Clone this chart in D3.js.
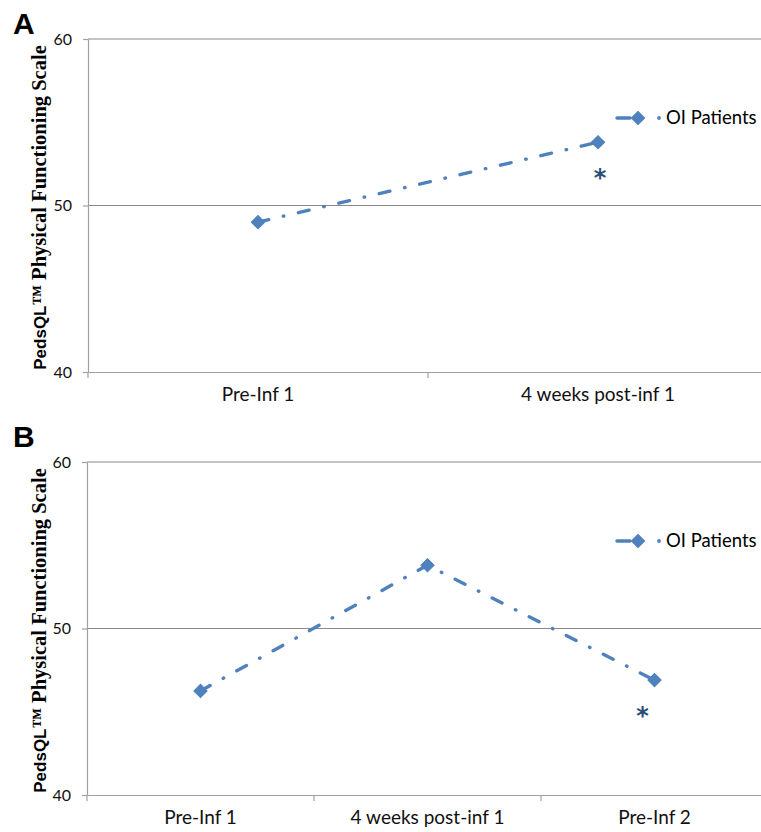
<!DOCTYPE html>
<html>
<head>
<meta charset="utf-8">
<script src="https://cdn.jsdelivr.net/npm/d3@7"></script>
<style>
  html, body { margin: 0; padding: 0; background: #fff; }
  svg { display: block; }
</style>
</head>
<body>
<svg id="chart" width="761" height="832"></svg>
<script>
// data
const categoriesA = ["Pre-Inf 1", "4 weeks post-inf 1"];
const valuesA = [49.0, 53.8];
const starA = [false, true];

const categoriesB = ["Pre-Inf 1", "4 weeks post-inf 1", "Pre-Inf 2"];
const valuesB = [46.25, 53.8, 46.9];
const starB = [false, false, true];

const yTicks = [40, 50, 60];
const gridTicks = [50, 60];
const seriesName = "OI Patients";
const titleSans = "PedsQL";
const titleSerif = "™ Physical Functioning Scale";

const blue = "#4f81bd";
const svg = d3.select("#chart");

function drawPanel(opt) {
  const g = svg.append("g");
  const x = d3.scaleBand().domain(opt.cats).range([opt.left, 768]);
  const y = d3.scaleLinear().domain([40, 60]).range([opt.bottom, opt.top]);
  const cx = c => x(c) + x.bandwidth() / 2;

  // panel letter
  g.append("text")
    .attr("x", 13).attr("y", opt.letterY)
    .attr("font-family", "'Liberation Sans', Arial, sans-serif")
    .attr("font-weight", "bold").attr("font-size", 30)
    .text(opt.letter);

  // gridlines
  g.selectAll("line.grid").data(gridTicks).join("line")
    .attr("x1", opt.left).attr("x2", 768)
    .attr("y1", d => y(d)).attr("y2", d => y(d))
    .attr("stroke", "#8a8a8a").attr("stroke-width", 1.2);

  // y axis
  const ya = g.append("g").attr("transform", `translate(${opt.left},0)`)
    .call(d3.axisLeft(y).tickValues(yTicks).tickSize(5).tickSizeOuter(0).tickPadding(11));
  ya.select(".domain").attr("stroke", "#a0a0a0").attr("stroke-width", 1.2);
  ya.selectAll(".tick line").attr("stroke", "#a0a0a0").attr("stroke-width", 1.2);
  ya.selectAll(".tick text")
    .attr("font-family", "Lato, 'Open Sans', sans-serif")
    .attr("font-size", 16).attr("fill", "#111");

  // x axis
  const xa = g.append("g").attr("transform", `translate(0,${opt.bottom})`)
    .call(d3.axisBottom(x).tickSize(0).tickSizeOuter(0).tickPadding(opt.labelPad));
  xa.select(".domain").attr("stroke", "#a0a0a0").attr("stroke-width", 1.2);
  xa.selectAll(".tick text")
    .attr("font-family", "Lato, 'Open Sans', sans-serif")
    .attr("font-size", 19).attr("fill", "#111");
  // category boundary ticks
  g.selectAll("line.bt").data(opt.cats).join("line")
    .attr("x1", d => x(d)).attr("x2", d => x(d))
    .attr("y1", opt.bottom).attr("y2", opt.bottom + 6)
    .attr("stroke", "#a0a0a0").attr("stroke-width", 1.2);

  // y title
  const t = g.append("text")
    .attr("transform", `translate(40,${(opt.top + opt.bottom) / 2 + 2}) rotate(-90)`)
    .attr("text-anchor", "middle").attr("dy", "0.35em")
    .attr("font-weight", "bold").attr("fill", "#000");
  t.append("tspan")
    .attr("font-family", "'Liberation Sans Narrow', 'Liberation Sans', Arial, sans-serif")
    .attr("font-size", 17).text(titleSans);
  t.append("tspan")
    .attr("font-family", "'Liberation Serif', 'Times New Roman', serif")
    .attr("font-size", 20.5).text(titleSerif);

  // series line
  const pts = opt.cats.map((c, i) => ({ c, v: opt.vals[i], star: opt.stars[i] }));
  const line = d3.line().x(d => cx(d.c)).y(d => y(d.v));
  g.append("path").datum(pts)
    .attr("d", line).attr("fill", "none")
    .attr("stroke", blue).attr("stroke-width", 3.4)
    .attr("stroke-linecap", "round")
    .attr("stroke-dasharray", "11,15,0.5,15");

  const diamond = d3.symbol().type(d3.symbolSquare).size(88);
  g.selectAll("path.mk").data(pts).join("path")
    .attr("d", diamond)
    .attr("transform", d => `translate(${cx(d.c)},${y(d.v)}) rotate(45)`)
    .attr("fill", blue).attr("stroke", blue).attr("stroke-width", 1);

  // significance marks
  g.selectAll("text.star").data(pts.filter(d => d.star)).join("text")
    .attr("x", d => cx(d.c) + opt.starDx).attr("y", d => y(d.v) + 44)
    .attr("text-anchor", "middle")
    .attr("font-family", "'DejaVu Sans', sans-serif")
    .attr("font-size", 24).attr("font-weight", "bold").attr("fill", "#2a4d78")
    .text("*");

  // legend
  const lg = g.append("g").attr("transform", `translate(638,${opt.legendY})`);
  lg.append("line").attr("x1", -21).attr("x2", -8).attr("y1", 0).attr("y2", 0)
    .attr("stroke", blue).attr("stroke-width", 3.4).attr("stroke-linecap", "round");
  lg.append("circle").attr("cx", 21).attr("cy", 0).attr("r", 1.9).attr("fill", blue);
  lg.append("path").attr("d", diamond).attr("transform", "rotate(45)")
    .attr("fill", blue).attr("stroke", blue).attr("stroke-width", 1);
  lg.append("text").attr("x", 28).attr("y", 0).attr("dy", "0.35em")
    .attr("font-family", "Lato, 'Open Sans', sans-serif")
    .attr("font-size", 18.5).attr("fill", "#000")
    .text(seriesName);
}

drawPanel({ letter: "A", cats: categoriesA, vals: valuesA, stars: starA,
  top: 39, bottom: 372, left: 88, labelPad: 16, legendY: 118, starDx: 2, letterY: 34 });
drawPanel({ letter: "B", cats: categoriesB, vals: valuesB, stars: starB,
  top: 462, bottom: 795, left: 87, labelPad: 16, legendY: 541, starDx: -12, letterY: 447 });
</script>
</body>
</html>
